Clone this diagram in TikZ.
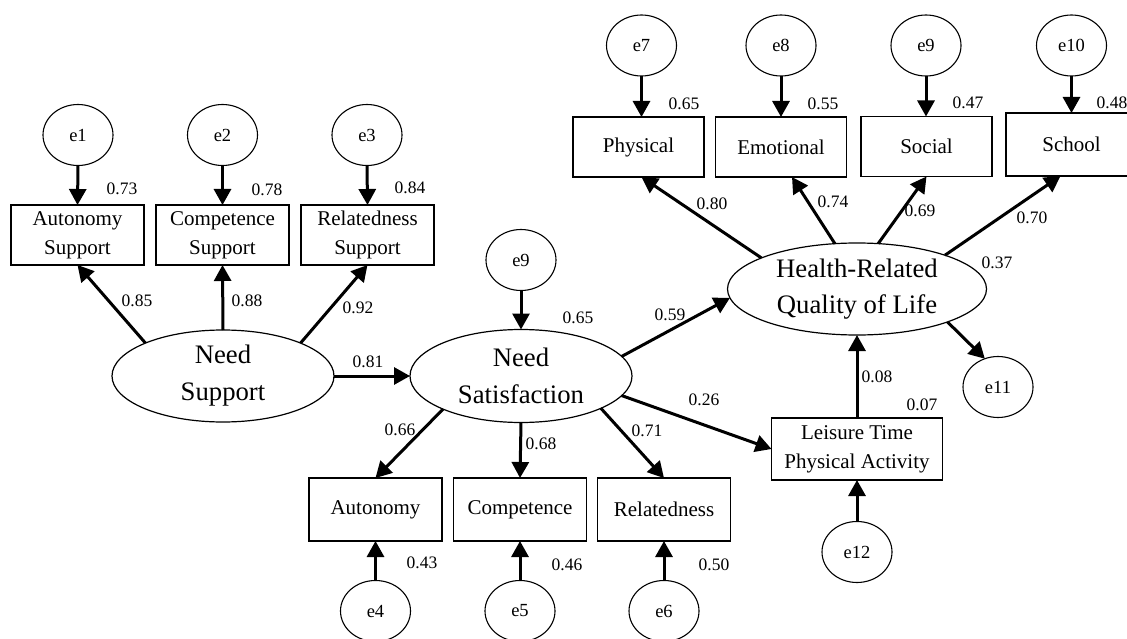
\documentclass[tikz,border=0pt]{standalone}
\usepackage{fontspec}
\setmainfont{Liberation Serif}
\usetikzlibrary{arrows.meta,shapes.geometric}
\begin{document}
\begin{tikzpicture}[x=1pt,y=-1pt,
  lab/.style={font=\fontsize{17.5}{20}\selectfont, inner sep=0},
  err/.style={draw, ellipse, line width=1.1pt, minimum width=70pt, minimum height=61pt, inner sep=0, outer sep=0, font=\fontsize{18.5}{20}\selectfont},
  obs/.style={draw, rectangle, line width=1.2pt, inner sep=0, outer sep=0, align=center, font=\fontsize{21}{29}\selectfont},
  lat/.style={draw, ellipse, line width=1.2pt, inner sep=0, outer sep=0},
  bigtxt/.style={align=center, inner sep=0, font=\fontsize{26.7}{37}\selectfont},
  arr/.style={line width=3pt, -{Triangle[length=16pt,width=17pt]}},
]
\useasboundingbox[fill=white] (0,0) rectangle (1127,639);

% Need Support block
\node[err] (e1) at (78,135) {e1};
\node[err] (e2) at (222.5,135) {e2};
\node[err] (e3) at (367,135) {e3};
\node[obs, minimum width=133pt, minimum height=60pt] (as) at (77.5,235) {Autonomy\\Support};
\node[obs, minimum width=133pt, minimum height=60pt] (cs) at (222.5,235) {Competence\\Support};
\node[obs, minimum width=133pt, minimum height=60pt] (rs) at (367.5,235) {Relatedness\\Support};
\node[lat, minimum width=222pt, minimum height=92pt, label={[bigtxt]center:Need\\Support}] (nsup) at (223,376) {};

% Need Satisfaction block
\node[err] (e9m) at (521,260) {e9};
\node[lat, minimum width=222pt, minimum height=93pt, label={[bigtxt]center:Need\\Satisfaction}] (ns) at (521,376) {};
\node[obs, minimum width=133pt, minimum height=63pt] (aut) at (375.5,509.5) {Autonomy};
\node[obs, minimum width=133pt, minimum height=63pt] (comp) at (520,509.5) {Competence};
\node[obs, minimum width=133pt, minimum height=63pt] (rel) at (664,509.5) {Relatedness};
\node[err] (e4) at (375.5,611) {e4};
\node[err] (e5) at (520,611) {e5};
\node[err] (e6) at (664,611) {e6};

% HRQoL block
\node[err] (e7) at (641.5,45.5) {e7};
\node[err] (e8) at (781,45.5) {e8};
\node[err] (e9) at (926,45.5) {e9};
\node[err] (e10) at (1071.5,45.5) {e10};
\node[obs, minimum width=131pt, minimum height=60pt] (phys) at (638.5,147) {Physical};
\node[obs, minimum width=131pt, minimum height=60pt] (emo) at (781,147) {Emotional};
\node[obs, minimum width=131pt, minimum height=60pt] (soc) at (926.5,146.5) {Social};
\node[obs, minimum width=131pt, minimum height=63pt] (sch) at (1071.5,144.5) {School};
\node[lat, minimum width=259pt, minimum height=92pt, label={[bigtxt, font=\fontsize{26.7}{36}\selectfont]center:Health-Related\\Quality of Life}] (hrq) at (857,289) {};
\node[err] (e11) at (998,387) {e11};
\node[obs, minimum width=171pt, minimum height=62pt] (ltpa) at (857,449) {Leisure Time\\Physical Activity};
\node[err] (e12) at (857,552) {e12};

% arrows
\draw[arr] (e1.south) -- (as.north);
\draw[arr] (e2.south) -- (cs.north);
\draw[arr] (e3.south) -- (rs.north);
\draw[arr] (nsup.157) -- (as.south);
\draw[arr] (nsup.north) -- (cs.south);
\draw[arr] (nsup.23) -- (rs.south);
\draw[arr] (nsup.east) -- (ns.west);
\draw[arr] (e9m.south) -- (ns.north);
\draw[arr] (ns.203.3) -- (aut.north);
\draw[arr] (ns.south) -- (comp.north);
\draw[arr] (ns.-22.8) -- (rel.north);
\draw[arr] (e4.north) -- (aut.south);
\draw[arr] (e5.north) -- (comp.south);
\draw[arr] (e6.north) -- (rel.south);
\draw[arr] (ns.11.7) -- (hrq.184);
\draw[arr] (ns.-11) -- (ltpa.west);
\draw[arr] (ltpa.north) -- (hrq.south);
\draw[arr] (e12.north) -- (ltpa.south);
\draw[arr] (hrq.-20.3) -- (e11.115);
\draw[arr] (e7.south) -- (e7.south |- phys.north);
\draw[arr] (e8.south) -- (e8.south |- emo.north);
\draw[arr] (e9.south) -- (e9.south |- soc.north);
\draw[arr] (e10.south) -- (e10.south |- sch.north);
\draw[arr] (hrq.162.6) -- ([xshift=3pt]phys.south);
\draw[arr] (hrq.116.6) -- ([xshift=11pt]emo.south);
\draw[arr] (hrq.65.5) -- (soc.south);
\draw[arr] (hrq.21.3) -- ([xshift=-11pt]sch.south);

% labels
\node[lab] (l1) at (122,189) {0.73};
\node[lab] (l2) at (267,190) {0.78};
\node[lab] (l3) at (410,188) {0.84};
\node[lab] (l4) at (137,301) {0.85};
\node[lab] (l5) at (247,301) {0.88};
\node[lab] (l6) at (358,308) {0.92};
\node[lab] (l7) at (368,362) {0.81};
\node[lab] (l8) at (578,318) {0.65};
\node[lab] (l9) at (670,315) {0.59};
\node[lab] (l10) at (704,400) {0.26};
\node[lab] (l11) at (400,430) {0.66};
\node[lab] (l12) at (541,444) {0.68};
\node[lab] (l13) at (647,431) {0.71};
\node[lab] (l14) at (422,563) {0.43};
\node[lab] (l15) at (567,565) {0.46};
\node[lab] (l16) at (714,565) {0.50};
\node[lab] (l17) at (997,263) {0.37};
\node[lab] (l18) at (877,377) {0.08};
\node[lab] (l19) at (922,405) {0.07};
\node[lab] (l20) at (684,104) {0.65};
\node[lab] (l21) at (823,104) {0.55};
\node[lab] (l22) at (968,103) {0.47};
\node[lab] (l23) at (1112,103) {0.48};
\node[lab] (l24) at (712,204) {0.80};
\node[lab] (l25) at (833,202) {0.74};
\node[lab] (l26) at (920,211) {0.69};
\node[lab] (l27) at (1032,218) {0.70};
\end{tikzpicture}
\end{document}
